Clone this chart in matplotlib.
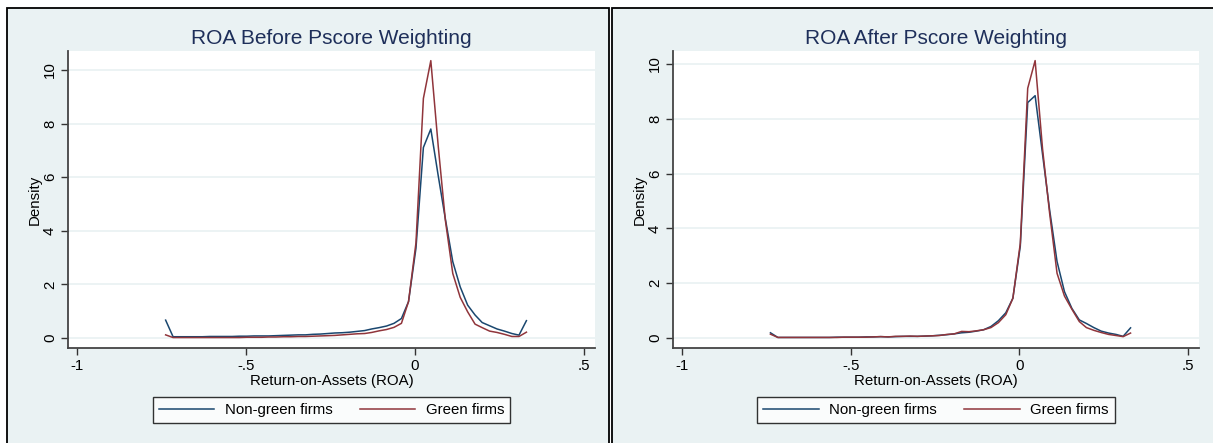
import matplotlib
matplotlib.use("Agg")
import matplotlib.pyplot as plt
from matplotlib.patches import Rectangle

plt.rcParams['font.family'] = ['Liberation Sans', 'DejaVu Sans']

# kdensity evaluation points (ROA)
roa = [-0.738, -0.716, -0.694, -0.672, -0.650, -0.629, -0.607, -0.585, -0.563, -0.541,
       -0.520, -0.498, -0.476, -0.454, -0.433, -0.411, -0.389, -0.367, -0.345, -0.324,
       -0.302, -0.280, -0.258, -0.237, -0.215, -0.193, -0.171, -0.149, -0.128, -0.106,
       -0.084, -0.062, -0.040, -0.019, 0.003, 0.025, 0.047, 0.069, 0.090, 0.112,
       0.134, 0.156, 0.178, 0.199, 0.221, 0.243, 0.265, 0.287, 0.308, 0.330]

# before weighting
before_nongreen = [0.67, 0.05, 0.05, 0.05, 0.05, 0.05, 0.06, 0.06, 0.06, 0.06,
                   0.07, 0.07, 0.08, 0.08, 0.08, 0.09, 0.10, 0.11, 0.12, 0.12,
                   0.14, 0.15, 0.17, 0.19, 0.20, 0.22, 0.25, 0.28, 0.34, 0.39,
                   0.45, 0.55, 0.73, 1.36, 3.35, 7.11, 7.80, 6.05, 4.45, 2.85,
                   1.91, 1.23, 0.86, 0.58, 0.46, 0.34, 0.26, 0.17, 0.11, 0.65]
before_green = [0.12, 0.02, 0.02, 0.02, 0.02, 0.02, 0.02, 0.02, 0.02, 0.02,
                0.02, 0.03, 0.03, 0.03, 0.04, 0.04, 0.05, 0.05, 0.06, 0.06,
                0.07, 0.08, 0.09, 0.10, 0.12, 0.14, 0.16, 0.17, 0.21, 0.27,
                0.32, 0.40, 0.55, 1.36, 3.55, 8.94, 10.35, 7.15, 4.40, 2.41,
                1.52, 0.98, 0.52, 0.39, 0.26, 0.21, 0.14, 0.06, 0.06, 0.22]

# after weighting
after_nongreen = [0.19, 0.02, 0.02, 0.02, 0.02, 0.02, 0.02, 0.02, 0.02, 0.03,
                  0.03, 0.03, 0.03, 0.04, 0.04, 0.05, 0.04, 0.05, 0.06, 0.06,
                  0.06, 0.07, 0.08, 0.10, 0.12, 0.15, 0.19, 0.21, 0.25, 0.30,
                  0.42, 0.63, 0.92, 1.45, 3.35, 8.59, 8.84, 6.70, 4.67, 2.79,
                  1.69, 1.08, 0.66, 0.53, 0.38, 0.25, 0.18, 0.13, 0.06, 0.37]
after_green = [0.14, 0.02, 0.02, 0.02, 0.02, 0.02, 0.02, 0.02, 0.02, 0.02,
               0.03, 0.03, 0.03, 0.03, 0.04, 0.05, 0.04, 0.06, 0.06, 0.07,
               0.06, 0.07, 0.08, 0.09, 0.13, 0.15, 0.24, 0.23, 0.26, 0.30,
               0.38, 0.56, 0.85, 1.45, 3.45, 9.11, 10.12, 6.90, 4.55, 2.36,
               1.53, 1.05, 0.60, 0.38, 0.28, 0.20, 0.13, 0.09, 0.05, 0.18]

xticks = [-1, -0.5, 0, 0.5]
xtick_labels = ["-1", "-.5", "0", ".5"]
yticks = [0, 2, 4, 6, 8, 10]

W, H = 1213, 443
bg = "#eaf2f3"
navy = "#1a476f"
maroon = "#90353b"
fs = 10.8

fig = plt.figure(figsize=(W / 100, H / 100), dpi=100)
fig.patch.set_facecolor("white")

# panel backgrounds (Stata graph regions)
for x0, x1 in [(7, 609), (612, 1216)]:
    fig.patches.append(Rectangle((x0 / W, -0.05), (x1 - x0) / W, (H - 8) / H + 0.05,
                                 transform=fig.transFigure, facecolor=bg,
                                 edgecolor="black", linewidth=1.3, zorder=-5))

panels = [
    ("ROA Before Pscore Weighting", before_nongreen, before_green, 68, 595, (-0.37, 10.71)),
    ("ROA After Pscore Weighting", after_nongreen, after_green, 673, 1199, (-0.365, 10.47)),
]

for title, nongreen, green, left, right, ylim in panels:
    top, bottom = 51, 348
    ax = fig.add_axes([left / W, (H - bottom) / H, (right - left) / W, (bottom - top) / H])
    ax.set_zorder(1)
    ax.set_facecolor("white")
    ax.plot(roa, nongreen, color=navy, lw=1.1, label="Non-green firms", zorder=3)
    ax.plot(roa, green, color=maroon, lw=1.1, label="Green firms", zorder=3)
    ax.set_xlim(-1.027, 0.533)
    ax.set_ylim(*ylim)
    ax.set_xticks(xticks)
    ax.set_xticklabels(xtick_labels)
    ax.set_yticks(yticks)
    ax.tick_params(axis="y", labelrotation=90)
    for lab in ax.get_yticklabels():
        lab.set_va("center")
    ax.tick_params(direction="out", length=5, width=1, color="#333333",
                   labelsize=fs, pad=3)
    ax.grid(axis="y", color=bg, lw=1.3)
    ax.set_axisbelow(True)
    for s in ["top", "right"]:
        ax.spines[s].set_visible(False)
    for s in ["left", "bottom"]:
        ax.spines[s].set_color("#444444")
        ax.spines[s].set_linewidth(1.3)
    ax.set_title(title, fontsize=15, color="#1e2f5a", pad=5)
    ax.set_ylabel("Density", fontsize=fs, labelpad=1)
    ax.set_xlabel("Return-on-Assets (ROA)", fontsize=fs, labelpad=1)
    leg = ax.legend(loc="center", bbox_to_anchor=(0.5, -0.2104), ncol=2,
                    fontsize=fs, frameon=True, fancybox=False, handlelength=3.7,
                    handletextpad=0.7, columnspacing=1.8, borderpad=0.4)
    leg.get_frame().set_edgecolor("black")
    leg.get_frame().set_linewidth(1.0)
    leg.get_frame().set_facecolor("white")

fig.savefig("out.png", dpi=100)
